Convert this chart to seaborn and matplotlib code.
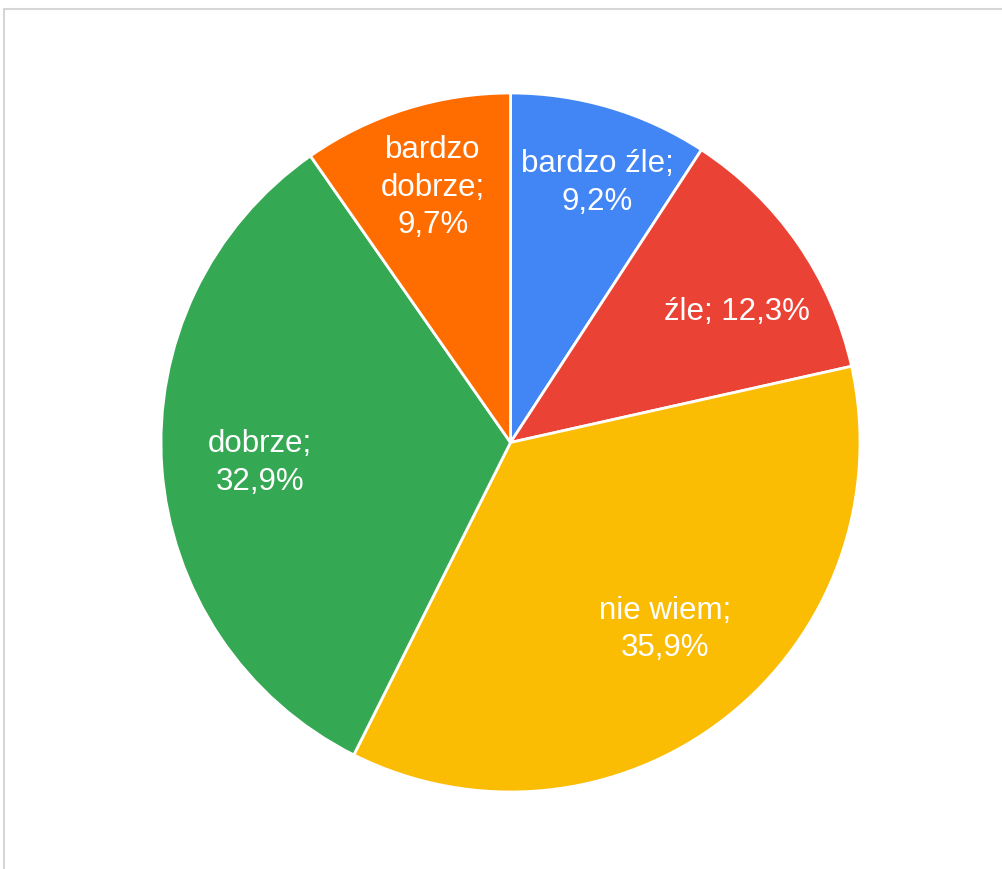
import numpy as np
import matplotlib as mpl
import matplotlib.pyplot as plt
import seaborn as sns

# Survey answers, clockwise from 12 o'clock
categories = ["bardzo źle", "źle", "nie wiem", "dobrze", "bardzo dobrze"]
shares = [9.2, 12.3, 35.9, 32.9, 9.7]
# how each label wraps in the original chart
label_lines = [
    ["bardzo źle;"],
    ["źle;"],
    ["nie wiem;"],
    ["dobrze;"],
    ["bardzo", "dobrze;"],
]
colors = ["#4285F4", "#EA4335", "#FBBC04", "#34A853", "#FF6D01"]
# label placement: fraction of radius and angular nudge from slice middle (deg)
label_r = [0.785, 0.75, 0.692, 0.718, 0.765]
label_shift = [-1.8, -4.7, 1.7, 0.3, -0.6]

sns.set_style("white")
plt.rcParams["font.family"] = ["Liberation Sans", "DejaVu Sans"]

fig = plt.figure(figsize=(10.02, 8.7), dpi=100)
fig.patch.set_facecolor("white")

# light grey frame along top and left edge
fig.add_artist(mpl.lines.Line2D([3.5 / 1002, 3.5 / 1002], [0, 1 - 10 / 870],
                                color="#d6d6d6", lw=1.5))
fig.add_artist(mpl.lines.Line2D([3.5 / 1002, 1], [1 - 10 / 870, 1 - 10 / 870],
                                color="#d6d6d6", lw=1.5))

cx, cy, r = 510.5, 443.5, 349.5
ax = fig.add_axes([(cx - r) / 1002, (870 - cy - r) / 870, 2 * r / 1002, 2 * r / 870])

wedges, _ = ax.pie(
    shares,
    colors=colors,
    startangle=90,
    counterclock=False,
    radius=1,
    wedgeprops=dict(edgecolor="white", linewidth=2.0),
)

for w, cat, val, lines, lr, sh in zip(wedges, categories, shares, label_lines,
                                      label_r, label_shift):
    mid = np.deg2rad((w.theta1 + w.theta2) / 2 + sh)
    pct = f"{val:.1f}%".replace(".", ",")
    if cat == "źle":
        txt = f"{lines[0]} {pct}"
    else:
        txt = "\n".join(lines + [pct])
    ax.text(lr * np.cos(mid), lr * np.sin(mid), txt, ha="center", va="center",
            multialignment="center", color="white", fontsize=22.5, linespacing=1.33)

ax.set_xlim(-1, 1)
ax.set_ylim(-1, 1)
ax.set_aspect("equal")
ax.axis("off")

plt.savefig("out.png", dpi=100, facecolor="white")
